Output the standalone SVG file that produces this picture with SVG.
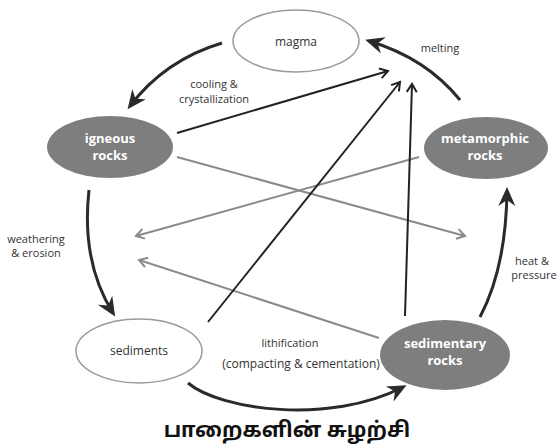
<svg xmlns="http://www.w3.org/2000/svg" width="557" height="448" viewBox="0 0 557 448">
<style>
.open{fill:#fff;stroke:#9a9a9a;stroke-width:1.5}
.dark{fill:#7e7e7e;stroke:none}
.nt{font-family:"Open Sans","Noto Sans",sans-serif;font-size:12px;fill:#333;text-anchor:middle}
.wt{font-family:"Open Sans","Noto Sans",sans-serif;font-size:13px;font-weight:bold;fill:#fff;text-anchor:middle}
.lb{font-family:"Open Sans","Noto Sans",sans-serif;font-size:11px;fill:#333;text-anchor:middle}
.big{fill:none;stroke:#2a2a2a;stroke-width:3;marker-end:url(#bigArrow)}
.blk{fill:none;stroke:#222;stroke-width:2;marker-end:url(#blkArrow)}
.gry{fill:none;stroke:#8a8a8a;stroke-width:2;marker-end:url(#gryArrow)}
.title{font-family:"Noto Sans Tamil","Noto Sans","Lato",sans-serif;font-size:21px;font-weight:bold;fill:#111;text-anchor:middle}
</style>
<defs>
<marker id="bigArrow" viewBox="-22 -10 24 20" refX="-4" refY="0" markerWidth="24" markerHeight="20" markerUnits="userSpaceOnUse" orient="auto">
<path d="M0,0 L-19,-8.5 L-13,0 L-19,8.5 Z" fill="#2a2a2a"/>
</marker>
<marker id="blkArrow" viewBox="-12 -8 14 16" refX="0" refY="0" markerWidth="14" markerHeight="16" markerUnits="userSpaceOnUse" orient="auto">
<path d="M-8,-5 L0,0 L-8,5" fill="none" stroke="#222" stroke-width="2"/>
</marker>
<marker id="gryArrow" viewBox="-12 -8 14 16" refX="0" refY="0" markerWidth="14" markerHeight="16" markerUnits="userSpaceOnUse" orient="auto">
<path d="M-8,-5 L0,0 L-8,5" fill="none" stroke="#8a8a8a" stroke-width="2"/>
</marker>
</defs>

<g id="connectors">
<path class="gry" d="M177,157 L465,236"/>
<path class="gry" d="M419,157 L136,236"/>
<path class="gry" d="M379,338 L139,260"/>
<path class="blk" d="M177,133 L388,71"/>
<path class="blk" d="M208,322 L400,82"/>
<path class="blk" d="M405,316 L412,84"/>
<path class="big" d="M222,43 Q165,60 130,106"/>
<path class="big" d="M460,100 Q426,58 369,41"/>
<path class="big" d="M89,190 Q81,262 113,313"/>
<path class="big" d="M188,383 C220,410 330,425 403,387"/>
<path class="big" d="M480,317 Q506,268 507,191"/>
</g>

<g id="magma">
<ellipse class="open" cx="296" cy="41" rx="63" ry="31"/>
<text class="nt" x="296" y="46">magma</text>
</g>
<g id="igneous">
<ellipse class="dark" cx="110" cy="147" rx="63" ry="31"/>
<text class="wt" x="110" y="143">igneous</text>
<text class="wt" x="110" y="160">rocks</text>
</g>
<g id="metamorphic">
<ellipse class="dark" cx="486" cy="148" rx="62" ry="31"/>
<text class="wt" x="485" y="143">metamorphic</text>
<text class="wt" x="485" y="160">rocks</text>
</g>
<g id="sediments">
<ellipse class="open" cx="139" cy="351" rx="63" ry="32"/>
<text class="nt" x="139" y="355">sediments</text>
</g>
<g id="sedimentary">
<ellipse class="dark" cx="445" cy="355" rx="65" ry="35"/>
<text class="wt" x="445" y="348">sedimentary</text>
<text class="wt" x="445" y="365">rocks</text>
</g>

<g id="labels">
<text class="lb" x="214" y="88">cooling &amp;</text>
<text class="lb" x="214" y="103">crystallization</text>
<text class="lb" x="440" y="52">melting</text>
<text class="lb" x="36" y="243">weathering</text>
<text class="lb" x="36" y="257">&amp; erosion</text>
<text class="lb" x="532" y="265">heat &amp;</text>
<text class="lb" x="534" y="279">pressure</text>
<text class="lb" x="290" y="347">lithification</text>
<text class="lb" x="301" y="368" style="font-size:12px">(compacting &amp; cementation)</text>
</g>

<text class="title" x="287" y="437">பாறைகளின் சுழற்சி</text>
</svg>
